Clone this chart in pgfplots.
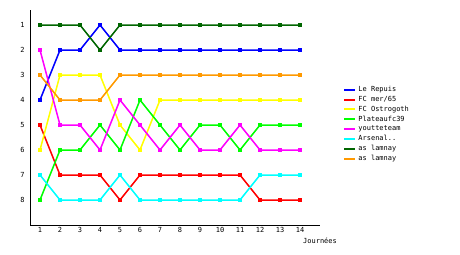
\documentclass[border=0pt]{standalone}
\usepackage{pgfplots}
\pgfplotsset{compat=1.18}
\usepackage{fontspec}
\setmainfont{DejaVu Sans Mono}
\definecolor{cblue}{RGB}{0,0,255}
\definecolor{cred}{RGB}{255,0,0}
\definecolor{cyel}{RGB}{255,255,0}
\definecolor{cgreen}{RGB}{0,255,0}
\definecolor{cmag}{RGB}{255,0,255}
\definecolor{ccyan}{RGB}{0,255,255}
\definecolor{cdgreen}{RGB}{0,102,0}
\definecolor{corange}{RGB}{255,153,0}
\begin{document}
\begin{tikzpicture}
\path[use as bounding box] (-30bp,-30bp) rectangle (430bp,225bp);
\begin{axis}[
  at={(0,0)}, anchor=south west,
  scale only axis, width=290bp, height=215bp,
  xmin=0.5, xmax=15, ymin=0.4, ymax=9,
  y dir=reverse,
  axis x line*=bottom, axis y line*=left,
  axis line style={line width=1bp, -},
  xtick={1,...,14}, ytick={1,...,8},
  major tick length=0pt,
  tick label style={font=\fontsize{7}{8}\selectfont},
  /pgf/number format/assume math mode=true,
  xticklabel style={yshift=1bp},
  yticklabel style={xshift=-2bp},
  xlabel={Journées},
  xlabel style={at={(axis description cs:1,0)}, anchor=north, yshift=-9bp, font=\fontsize{7}{8}\selectfont},
  every axis plot/.append style={line width=1.5bp, mark=square*, mark size=1.2bp},
  legend style={at={(rel axis cs:1.07,0.665)}, anchor=north west, draw=none, fill=none,
    font=\fontsize{7}{8}\selectfont, row sep=-0.8bp},
  legend cell align=left,
  legend image code/.code={\draw[#1, mark=none, line width=2bp] (0bp,0bp) -- (11bp,0bp);},
]
\addplot[cblue] coordinates {(1,4)(2,2)(3,2)(4,1)(5,2)(6,2)(7,2)(8,2)(9,2)(10,2)(11,2)(12,2)(13,2)(14,2)};
\addlegendentry{Le Repuis}
\addplot[cred] coordinates {(1,5)(2,7)(3,7)(4,7)(5,8)(6,7)(7,7)(8,7)(9,7)(10,7)(11,7)(12,8)(13,8)(14,8)};
\addlegendentry{FC mer/65}
\addplot[cyel] coordinates {(1,6)(2,3)(3,3)(4,3)(5,5)(6,6)(7,4)(8,4)(9,4)(10,4)(11,4)(12,4)(13,4)(14,4)};
\addlegendentry{FC Ostrogoth}
\addplot[cgreen] coordinates {(1,8)(2,6)(3,6)(4,5)(5,6)(6,4)(7,5)(8,6)(9,5)(10,5)(11,6)(12,5)(13,5)(14,5)};
\addlegendentry{Plateaufc39}
\addplot[cmag] coordinates {(1,2)(2,5)(3,5)(4,6)(5,4)(6,5)(7,6)(8,5)(9,6)(10,6)(11,5)(12,6)(13,6)(14,6)};
\addlegendentry{youtteteam}
\addplot[ccyan] coordinates {(1,7)(2,8)(3,8)(4,8)(5,7)(6,8)(7,8)(8,8)(9,8)(10,8)(11,8)(12,7)(13,7)(14,7)};
\addlegendentry{Arsenal..}
\addplot[cdgreen] coordinates {(1,1)(2,1)(3,1)(4,2)(5,1)(6,1)(7,1)(8,1)(9,1)(10,1)(11,1)(12,1)(13,1)(14,1)};
\addlegendentry{as lamnay}
\addplot[corange] coordinates {(1,3)(2,4)(3,4)(4,4)(5,3)(6,3)(7,3)(8,3)(9,3)(10,3)(11,3)(12,3)(13,3)(14,3)};
\addlegendentry{as lamnay}
\end{axis}
\end{tikzpicture}
\end{document}
